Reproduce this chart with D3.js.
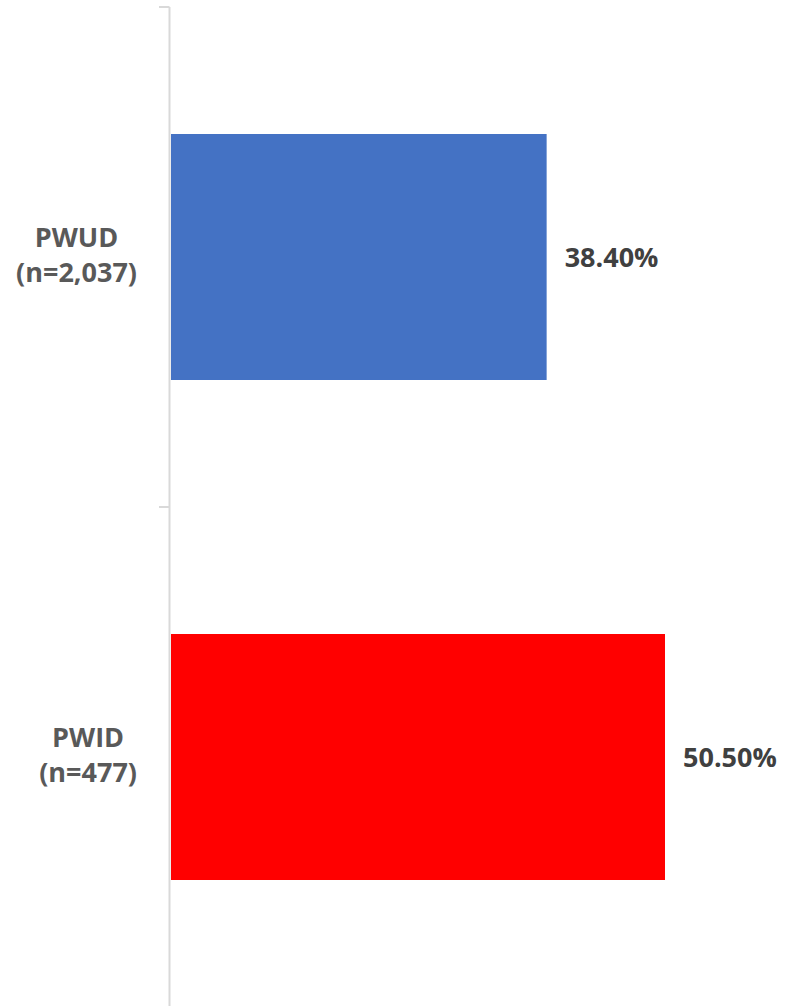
<!DOCTYPE html>
<meta charset="utf-8">
<style>
  body { margin: 0; background: #fff; }
  .cat { font-family: "Open Sans", sans-serif; font-weight: bold; font-size: 27px; fill: #595959; }
  .val { font-family: "Open Sans", sans-serif; font-weight: bold; font-size: 27px; fill: #404040; }
</style>
<body>
<script src="https://d3js.org/d3.v7.min.js"></script>
<script>
var groups = ["PWUD", "PWID"];
var sampleSizes = ["(n=2,037)", "(n=477)"];
var values = [38.4, 50.5];
var barColors = ["#4472C4", "#FF0000"];

var width = 785, height = 1006;

var svg = d3.select("body").append("svg")
    .attr("width", width)
    .attr("height", height);

var y = d3.scaleBand()
    .domain(groups)
    .range([7, 1007])
    .paddingInner(0.508)
    .paddingOuter(0.254);

var x = d3.scaleLinear()
    .domain([0, 50.5])
    .range([171, 665]);

// bars
svg.selectAll("rect.bar")
    .data(values)
  .enter().append("rect")
    .attr("class", "bar")
    .attr("x", x(0))
    .attr("y", function(d, i) { return y(groups[i]); })
    .attr("width", function(d) { return x(d) - x(0); })
    .attr("height", y.bandwidth())
    .attr("fill", function(d, i) { return barColors[i]; });

// axis line + ticks between categories
var axis = svg.append("g").attr("stroke", "#d9d9d9").attr("stroke-width", 2);
axis.append("line")
    .attr("x1", 169.5).attr("x2", 169.5)
    .attr("y1", y.range()[0]).attr("y2", y.range()[1]);

var tickYs = groups.map(function(g) { return y(g) - y.step() * y.paddingInner() / 2; });
axis.selectAll("line.tick")
    .data(tickYs)
  .enter().append("line")
    .attr("class", "tick")
    .attr("x1", 159).attr("x2", 169.5)
    .attr("y1", function(d) { return d; })
    .attr("y2", function(d) { return d; });

// category labels: lines centred on each other, block right edge at 137
var labelRight = 137;
var cats = svg.selectAll("text.cat")
    .data(groups)
  .enter().append("text")
    .attr("class", "cat")
    .attr("text-anchor", "middle")
    .attr("y", function(d) { return y(d) + y.bandwidth() / 2 - 10; });

cats.append("tspan")
    .text(function(d) { return d; });
cats.append("tspan")
    .attr("dy", 35)
    .text(function(d, i) { return sampleSizes[i]; });

cats.each(function() {
  var t = d3.select(this);
  var w = d3.max(t.selectAll("tspan").nodes(), function(n) { return n.getComputedTextLength(); });
  t.selectAll("tspan").attr("x", labelRight - w / 2);
});

// value labels
svg.selectAll("text.val")
    .data(values)
  .enter().append("text")
    .attr("class", "val")
    .attr("x", function(d) { return x(d) + 18; })
    .attr("y", function(d, i) { return y(groups[i]) + y.bandwidth() / 2 + 10; })
    .text(function(d) { return d.toFixed(2) + "%"; });
</script>
</body>
